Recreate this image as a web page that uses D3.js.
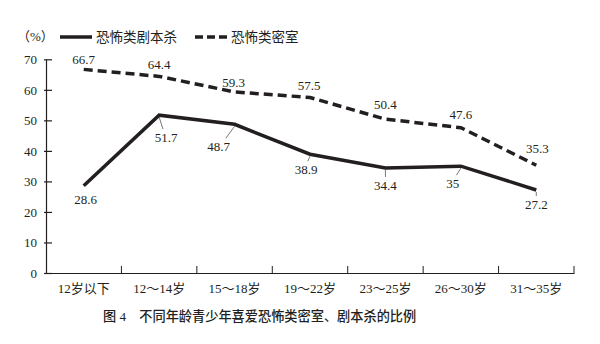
<!DOCTYPE html>
<html><head><meta charset="utf-8">
<script src="https://cdn.jsdelivr.net/npm/d3@7"></script>
<style>
html,body{margin:0;padding:0;background:#fff;}
svg{display:block;}
text{font-family:"Liberation Serif","Noto Sans CJK SC",serif;fill:#231f20;}
</style></head>
<body><svg id="chart" width="600" height="344"></svg>
<script>
const categories = ["12岁以下","12～14岁","15～18岁","19～22岁","23～25岁","26～30岁","31～35岁"];
const scriptKill = [28.6, 51.7, 48.7, 38.9, 34.4, 35, 27.2];
const escapeRoom = [66.7, 64.4, 59.3, 57.5, 50.4, 47.6, 35.3];
const yTicks = [0,10,20,30,40,50,60,70];
const seriesNames = ["恐怖类剧本杀","恐怖类密室"];
const caption = "图 4　不同年龄青少年喜爱恐怖类密室、剧本杀的比例";

// label placement offsets (layout only)
const killLabelOffset = [[2,18],[7,27],[-16,27],[-4,20],[0,22],[-8,22],[0,19]];
const roomLabelOffset = [[0,-5],[0,-7],[-1,-5],[-1,-7],[0,-10],[0,-9],[1,-12]];
const killLeader = [false,true,true,true,true,true,true];

const svg = d3.select("#chart");
const margin = {left:46, right:26, top:59.3, bottom:71};
const W = 600, H = 344;
const x = d3.scaleBand().domain(categories).range([margin.left, W-margin.right]).padding(0);
const y = d3.scaleLinear().domain([0,70]).range([H-margin.bottom, margin.top]);
const cx = d => x(d) + x.bandwidth()/2;

// y axis
const yAxis = d3.axisLeft(y).tickValues(yTicks).tickSize(0).tickPadding(9).tickFormat(d3.format("d"));
const gy = svg.append("g").attr("transform",`translate(${margin.left},0)`).call(yAxis);
gy.select(".domain").attr("stroke","#231f20").attr("stroke-width",1.2);
gy.selectAll(".tick text").attr("font-size",13).attr("font-family","Liberation Serif").attr("fill","#231f20");
gy.selectAll(".tick").append("line").attr("x1",-2).attr("x2",6).attr("stroke","#231f20").attr("stroke-width",1.2);

// x axis
const xAxis = d3.axisBottom(x).tickSize(0).tickPadding(11);
const gx = svg.append("g").attr("transform",`translate(0,${y(0)})`).call(xAxis);
gx.select(".domain").attr("stroke","#231f20").attr("stroke-width",1.2);
gx.selectAll(".tick text").attr("font-size",13).attr("fill","#231f20");
const bounds = categories.map(c=>x(c)).concat([x(categories[categories.length-1])+x.bandwidth()]);
gx.selectAll(".sep").data(bounds.slice(1)).enter().append("line")
  .attr("x1",d=>d).attr("x2",d=>d).attr("y1",0).attr("y2",-7)
  .attr("stroke","#231f20").attr("stroke-width",1);

// lines
const line = d3.line().x((d,i)=>cx(categories[i])).y(d=>y(d));
svg.append("path").datum(escapeRoom).attr("d",line).attr("fill","none")
  .attr("stroke","#231f20").attr("stroke-width",3.5).attr("stroke-dasharray","9,5");
svg.append("path").datum(scriptKill).attr("d",line).attr("fill","none")
  .attr("stroke","#231f20").attr("stroke-width",3.5).attr("stroke-linejoin","miter");

// labels
const fmt = v => String(v);
scriptKill.forEach((v,i)=>{
  const px = cx(categories[i]), py = y(v);
  const [dx,dy] = killLabelOffset[i];
  if (killLeader[i]) {
    svg.append("line").attr("x1",px).attr("y1",py+2).attr("x2",px+dx*0.55).attr("y2",py+dy-13)
      .attr("stroke","#555").attr("stroke-width",0.8);
  }
  svg.append("text").attr("x",px+dx).attr("y",py+dy).attr("text-anchor","middle")
    .attr("font-size",13).attr("font-family","Liberation Serif").text(fmt(v));
});
escapeRoom.forEach((v,i)=>{
  const px = cx(categories[i]), py = y(v);
  const [dx,dy] = roomLabelOffset[i];
  svg.append("text").attr("x",px+dx).attr("y",py+dy).attr("text-anchor","middle")
    .attr("font-size",13).attr("font-family","Liberation Serif").text(fmt(v));
});

// legend
svg.append("text").attr("x",17).attr("y",41).attr("font-size",13).text("（%）").attr("font-family","Liberation Serif, Noto Sans CJK SC");
svg.append("line").attr("x1",60).attr("x2",92).attr("y1",37).attr("y2",37).attr("stroke","#231f20").attr("stroke-width",3.5);
svg.append("text").attr("x",96).attr("y",42).attr("font-size",13.5).text(seriesNames[0]);
svg.append("line").attr("x1",195).attr("x2",227).attr("y1",37).attr("y2",37).attr("stroke","#231f20").attr("stroke-width",3.5).attr("stroke-dasharray","8,4");
svg.append("text").attr("x",231).attr("y",42).attr("font-size",13.5).text(seriesNames[1]);

// caption
svg.append("text").attr("x",103).attr("y",321).attr("font-size",13.2).attr("font-weight",500)
  .attr("font-family","Noto Sans CJK SC").attr("fill","#231f20").text(caption);
</script></body></html>
